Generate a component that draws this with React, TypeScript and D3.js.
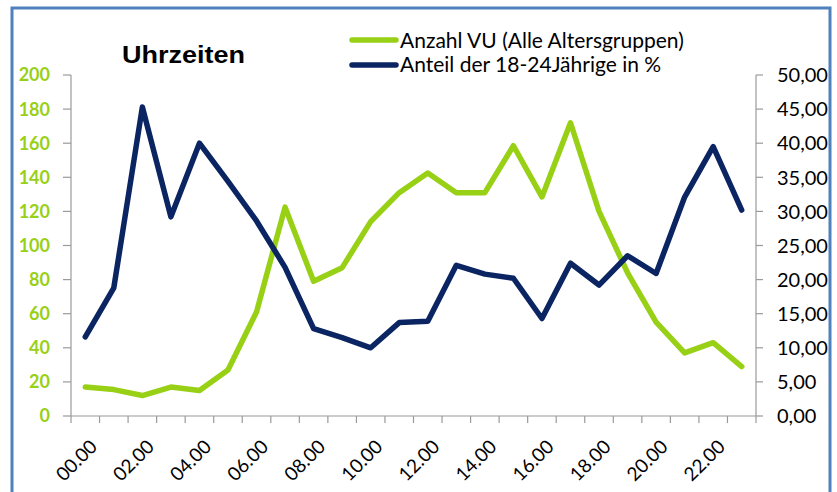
import React from 'react';
import * as d3 from 'd3';

// Stunden 0..23
const hours = d3.range(24);
const xLabels = ['00.00', '02.00', '04.00', '06.00', '08.00', '10.00', '12.00', '14.00', '16.00', '18.00', '20.00', '22.00'];

// Anzahl VU (Alle Altersgruppen) - linke Achse
const anzahlVU = [17, 15.5, 12, 17, 15, 27, 61, 122.5, 79, 87, 114, 131, 142.5, 131, 131, 158.5, 128.5, 172, 120, 84, 55, 37, 43, 29];
// Anteil der 18-24Jährige in % - rechte Achse
const anteil = [11.6, 18.8, 45.3, 29.2, 40, 34.4, 28.6, 21.8, 12.8, 11.5, 10, 13.7, 13.9, 22.1, 20.8, 20.2, 14.3, 22.4, 19.2, 23.5, 20.9, 32.1, 39.5, 30.2];

const leftTicks = d3.range(0, 201, 20);
const rightTicks = d3.range(0, 51, 5);

const title = 'Uhrzeiten';
const legendNames = ['Anzahl VU (Alle Altersgruppen)', 'Anteil der 18-24Jährige in %'];

const green = '#98d016';
const navy = '#0b2462';
const axisGrey = '#9a9a9a';

const width = 837;
const height = 492;
const left = 71;
const right = 756;
const top = 75;
const bottom = 416;

export default function App() {
  const xBand = d3.scaleBand<number>().domain(hours).range([left, right]);
  const xc = (h: number) => (xBand(h) as number) + xBand.bandwidth() / 2;
  const yLeft = d3.scaleLinear().domain([0, 200]).range([bottom, top]);
  const yRight = d3.scaleLinear().domain([0, 50]).range([bottom, top]);

  const lineLeft = d3.line<number>().x((d, i) => xc(i)).y((d) => yLeft(d));
  const lineRight = d3.line<number>().x((d, i) => xc(i)).y((d) => yRight(d));

  const boundaries = d3.range(25).map((i) => left + i * xBand.step());
  const font = 'Lato, "Open Sans", sans-serif';

  return (
    <svg width={width} height={height} style={{ position: 'absolute', left: 0, top: 0 }}>
      <rect x={0} y={0} width={width} height={height} fill='#fff' />
      <rect x={12} y={8} width={818} height={500} fill='#fff' stroke='#4f81bd' strokeWidth={3} />

      <text
        x={122}
        y={63}
        fontFamily='"Liberation Sans", Arial, sans-serif'
        fontWeight='bold'
        fontSize={23}
        textLength={123}
        lengthAdjust='spacingAndGlyphs'
        fill='#000'
      >
        {title}
      </text>

      {/* legend */}
      {legendNames.map((name, i) => (
        <g key={name}>
          <line x1={352} x2={396} y1={40 + i * 25} y2={40 + i * 25} stroke={i === 0 ? green : navy} strokeWidth={5.5} strokeLinecap='round' />
          <text x={400} y={48 + i * 24} fontFamily={font} fontSize={21} fill='#000'>
            {name}
          </text>
        </g>
      ))}

      {/* left axis */}
      <line x1={left} x2={left} y1={top} y2={bottom} stroke={axisGrey} strokeWidth={1.2} />
      {leftTicks.map((t) => (
        <g key={'l' + t}>
          <line x1={63} x2={left} y1={yLeft(t)} y2={yLeft(t)} stroke={axisGrey} strokeWidth={1.2} />
          <text x={50} y={yLeft(t)} dy='0.36em' textAnchor='end' fontFamily={font} fontWeight='bold' fontSize={18} fill={green}>
            {t}
          </text>
        </g>
      ))}

      {/* right axis */}
      <line x1={right} x2={right} y1={top} y2={bottom} stroke={axisGrey} strokeWidth={1.2} />
      {rightTicks.map((t) => (
        <g key={'r' + t}>
          <line x1={right} x2={763} y1={yRight(t)} y2={yRight(t)} stroke={axisGrey} strokeWidth={1.2} />
          <text x={777} y={yRight(t)} dy='0.36em' fontFamily={font} fontSize={20} fill='#000'>
            {d3.format('.2f')(t).replace('.', ',')}
          </text>
        </g>
      ))}

      {/* x axis */}
      <line x1={left} x2={right} y1={bottom} y2={bottom} stroke={axisGrey} strokeWidth={1.2} />
      {boundaries.map((b, i) => (
        <line key={'b' + i} x1={b} x2={b} y1={bottom} y2={bottom + 7} stroke={axisGrey} strokeWidth={1.2} />
      ))}
      {xLabels.map((lab, i) => (
        <text
          key={lab}
          transform={`translate(${xc(i * 2) + 13},${bottom + 32}) rotate(-45)`}
          textAnchor='end'
          fontFamily={font}
          fontSize={19}
          fill='#000'
        >
          {lab}
        </text>
      ))}

      <path d={lineLeft(anzahlVU) || ''} fill='none' stroke={green} strokeWidth={5.5} strokeLinejoin='round' strokeLinecap='round' />
      <path d={lineRight(anteil) || ''} fill='none' stroke={navy} strokeWidth={5.5} strokeLinejoin='round' strokeLinecap='round' />
    </svg>
  );
}
